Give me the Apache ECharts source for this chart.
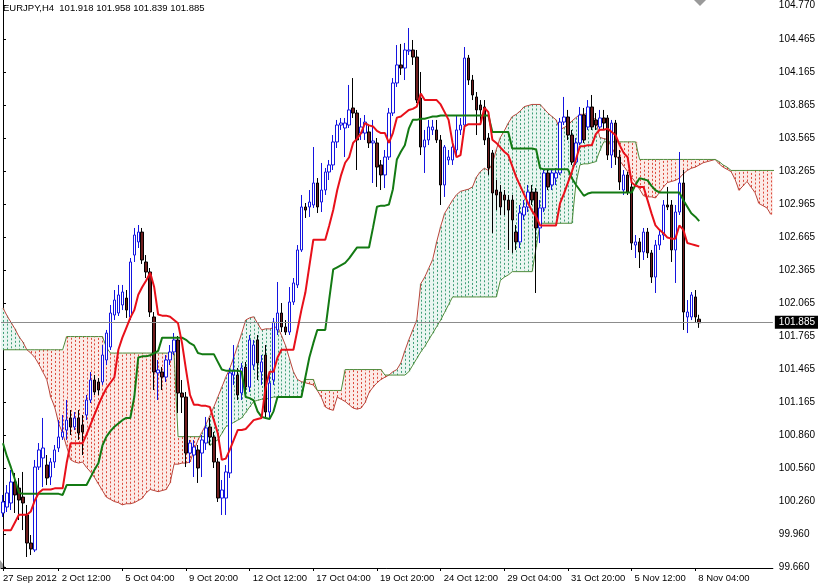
<!DOCTYPE html>
<html><head><meta charset="utf-8">
<script src="https://cdn.jsdelivr.net/npm/echarts@6/dist/echarts.min.js"></script>
<style>html,body{margin:0;padding:0;background:#fff}#c{width:818px;height:585px}</style>
</head><body><div id="c"></div>
<script>
const headerText = 'EURJPY,H4  101.918 101.958 101.839 101.885';
const lastPrice = 101.885;
// OHLC per H4 bar (index 0 = first bar on the left)
const open = [100.156,100.210,100.247,100.438,100.383,100.301,100.138,99.883,99.820,100.574,100.656,100.592,100.483,100.620,100.747,100.847,100.910,101.020,100.938,101.020,100.956,101.047,101.183,101.365,101.347,101.347,101.547,101.665,101.956,101.974,102.047,102.110,101.938,102.501,102.620,102.710,102.438,102.347,101.938,101.429,101.438,101.392,101.547,101.620,101.729,101.247,101.210,100.701,100.683,100.729,100.701,100.792,100.938,100.847,100.620,100.292,100.292,100.520,101.410,101.410,101.247,101.483,101.301,101.501,101.729,101.438,101.592,101.074,101.365,101.820,101.974,101.847,101.801,102.074,102.229,102.547,102.938,102.938,102.956,103.156,102.983,103.092,103.256,103.320,103.529,103.683,103.656,103.683,103.838,103.792,103.610,103.610,103.620,103.520,103.520,103.320,103.229,103.392,103.792,104.065,104.229,104.201,104.356,104.365,104.301,103.929,103.483,103.547,103.638,103.638,103.547,103.138,103.365,103.365,103.456,103.638,103.683,104.292,104.092,103.938,103.865,103.847,103.565,103.429,103.092,103.074,103.047,103.001,103.001,102.710,102.620,102.865,102.938,103.074,103.074,102.747,102.929,103.247,103.138,103.201,103.247,103.710,103.756,103.592,103.347,103.520,103.774,103.665,103.847,103.729,103.665,103.747,103.747,103.410,103.701,103.392,103.092,103.229,103.120,102.592,102.620,102.529,102.710,102.520,102.301,102.592,102.683,102.956,102.956,102.547,102.892,103.156,101.938,101.938,102.120,101.918];
const high = [100.320,100.410,100.547,100.520,100.474,100.529,100.229,99.956,100.638,100.792,101.020,100.683,100.656,100.774,101.001,101.047,101.183,101.092,101.074,101.092,101.047,101.229,101.438,101.410,101.383,101.683,101.820,102.047,102.183,102.229,102.229,102.183,102.474,102.747,102.774,102.747,102.501,102.383,101.983,101.547,101.483,101.592,101.683,101.792,101.765,101.365,101.256,100.820,100.820,100.774,100.865,101.029,101.020,100.892,100.656,100.456,100.592,101.474,101.683,101.474,101.520,101.529,101.774,101.729,101.774,101.592,101.683,101.410,101.929,102.256,102.065,101.910,102.210,102.292,102.592,103.047,102.974,103.092,103.483,103.201,103.338,103.292,103.365,103.592,103.729,103.747,103.747,104.047,104.110,103.820,103.747,103.774,103.683,103.729,103.565,103.365,103.456,103.838,104.110,104.410,104.420,104.429,104.565,104.456,104.365,104.165,103.638,103.729,103.729,103.729,103.592,103.501,103.456,103.547,103.774,103.747,104.392,104.320,104.138,103.983,103.910,103.910,103.610,103.456,103.183,103.138,103.092,103.047,103.047,102.774,102.956,103.001,103.138,103.138,103.110,103.001,103.274,103.274,103.274,103.292,103.747,103.938,103.820,103.638,103.565,103.847,103.838,103.910,103.956,103.792,103.820,103.820,103.774,103.729,103.729,103.456,103.274,103.256,103.156,102.683,102.656,102.747,102.747,102.547,102.638,102.729,103.001,103.120,103.001,102.956,103.438,103.274,102.092,102.165,102.183,101.958];
const low = [100.120,100.165,100.183,100.156,100.092,100.001,99.756,99.774,99.801,100.547,100.392,100.410,100.410,100.565,100.710,100.820,100.820,100.865,100.910,100.820,100.683,101.001,101.156,101.229,101.229,101.320,101.501,101.638,101.910,101.947,102.001,101.929,101.910,102.438,102.565,102.420,102.292,101.938,101.274,101.183,101.274,101.347,101.501,101.592,101.065,101.065,100.574,100.610,100.483,100.429,100.483,100.729,100.774,100.565,100.256,100.138,100.138,100.474,101.320,101.183,101.183,101.229,101.256,101.456,101.365,101.320,101.020,101.020,101.320,101.774,101.801,101.774,101.774,102.047,102.201,102.529,102.838,102.847,102.929,102.883,102.892,103.047,103.183,103.274,103.474,103.638,103.392,103.656,103.747,103.274,103.547,103.547,103.474,103.156,103.120,103.092,103.110,103.365,103.765,104.029,104.138,104.092,104.320,104.229,103.883,103.410,103.247,103.501,103.592,103.520,102.956,103.029,103.320,103.320,103.410,103.592,103.656,104.047,103.910,103.592,103.683,103.501,103.229,102.701,102.910,102.865,102.865,102.547,102.520,102.547,102.565,102.820,102.892,102.956,102.156,102.610,102.892,103.092,103.092,103.138,103.229,103.683,103.547,103.320,103.320,103.501,103.520,103.638,103.638,103.638,103.638,103.638,103.365,103.292,103.320,103.092,103.047,103.047,102.547,102.474,102.383,102.456,102.474,102.247,102.156,102.547,102.638,102.910,102.438,102.247,102.865,101.820,101.792,101.910,101.892,101.839];
const close = [100.256,100.338,100.438,100.320,100.274,100.247,99.883,99.829,100.574,100.729,100.747,100.474,100.620,100.729,100.847,100.892,101.001,100.938,101.020,100.883,100.892,101.183,101.365,101.256,101.274,101.592,101.792,101.974,102.092,102.138,102.165,102.001,102.438,102.683,102.710,102.456,102.347,101.983,101.438,101.456,101.392,101.547,101.620,101.729,101.247,101.210,100.701,100.792,100.756,100.565,100.820,100.929,100.847,100.620,100.292,100.365,100.529,101.429,101.456,101.229,101.474,101.301,101.729,101.683,101.520,101.529,101.074,101.338,101.892,101.974,101.847,101.801,102.074,102.247,102.547,102.938,102.910,102.983,103.156,102.938,103.092,103.256,103.320,103.529,103.683,103.701,103.701,103.820,103.792,103.547,103.665,103.710,103.520,103.538,103.301,103.229,103.392,103.792,104.065,104.229,104.201,104.365,104.365,104.301,103.910,103.483,103.547,103.665,103.665,103.547,103.138,103.483,103.392,103.483,103.638,103.683,104.292,104.092,103.956,103.820,103.820,103.547,103.292,103.065,103.047,102.938,103.001,102.910,102.820,102.620,102.883,102.938,103.074,103.001,102.747,102.929,103.247,103.120,103.247,103.247,103.710,103.756,103.592,103.347,103.520,103.774,103.547,103.847,103.665,103.683,103.747,103.701,103.410,103.701,103.392,103.165,103.229,103.074,102.610,102.620,102.529,102.710,102.520,102.301,102.592,102.683,102.956,102.938,102.547,102.892,103.156,101.983,101.983,102.138,101.938,101.885];
// Ichimoku lines read per bar
const tenkan = [100.00,100.00,100.00,100.07,100.14,100.14,100.14,100.17,100.27,100.34,100.37,100.37,100.37,100.38,100.38,100.38,100.61,100.79,100.79,100.79,100.79,100.87,100.96,101.05,101.14,101.22,101.29,101.34,101.39,101.64,101.75,101.84,101.93,102.00,102.14,102.21,102.27,102.34,102.21,101.96,101.95,101.95,101.94,101.91,101.88,101.70,101.46,101.23,101.14,101.14,101.13,101.13,101.12,101.00,100.88,100.64,100.65,100.73,100.82,100.91,100.91,100.92,100.96,101.00,101.01,101.02,101.30,101.44,101.44,101.57,101.64,101.64,101.64,101.64,101.82,102.00,102.16,102.40,102.64,102.64,102.64,102.64,102.77,102.91,103.09,103.23,103.34,103.39,103.52,103.56,103.61,103.70,103.68,103.67,103.63,103.61,103.61,103.52,103.61,103.75,103.76,103.79,103.82,103.83,103.85,103.97,103.91,103.91,103.91,103.91,103.87,103.80,103.73,103.52,103.39,103.41,103.67,103.69,103.69,103.69,103.69,103.84,103.80,103.55,103.52,103.48,103.44,103.41,103.31,103.21,103.13,103.05,102.97,102.90,102.85,102.77,102.77,102.77,102.77,102.77,102.97,103.06,103.16,103.26,103.37,103.49,103.49,103.50,103.50,103.60,103.64,103.64,103.65,103.62,103.59,103.50,103.43,103.39,103.16,103.13,103.12,103.12,103.00,102.88,102.77,102.73,102.70,102.66,102.65,102.65,102.77,102.73,102.61,102.60,102.59,102.58];
const kijun = [100.79,100.67,100.57,100.46,100.34,100.33,100.33,100.33,100.33,100.33,100.33,100.33,100.33,100.33,100.33,100.32,100.41,100.41,100.41,100.41,100.41,100.41,100.48,100.55,100.61,100.77,100.85,100.90,100.94,100.97,101.00,101.02,101.02,101.21,101.57,101.58,101.58,101.59,101.61,101.63,101.75,101.75,101.75,101.75,101.75,101.75,101.73,101.70,101.68,101.61,101.60,101.60,101.60,101.60,101.53,101.46,101.45,101.45,101.45,101.45,101.44,101.21,101.20,101.18,101.08,101.03,101.02,101.01,101.08,101.21,101.21,101.21,101.21,101.21,101.21,101.21,101.39,101.57,101.70,101.82,101.82,101.82,102.10,102.37,102.39,102.41,102.43,102.47,102.52,102.57,102.57,102.57,102.57,102.75,102.94,102.95,102.95,102.96,103.10,103.37,103.44,103.50,103.65,103.73,103.73,103.74,103.74,103.75,103.76,103.76,103.77,103.77,103.77,103.77,103.77,103.77,103.77,103.77,103.77,103.77,103.77,103.77,103.77,103.62,103.62,103.62,103.62,103.62,103.47,103.47,103.47,103.47,103.47,103.47,103.46,103.29,103.28,103.28,103.28,103.28,103.28,103.28,103.28,103.20,103.14,103.09,103.04,103.06,103.07,103.07,103.07,103.07,103.07,103.07,103.07,103.07,103.07,103.07,103.07,103.14,103.20,103.19,103.18,103.13,103.09,103.07,103.07,103.07,103.07,103.07,103.07,103.00,102.94,102.88,102.85,102.81];
// Senkou spans (cloud), extending 18 bars past the last candle
const spanA = [102.02,101.95,101.89,101.83,101.76,101.71,101.64,101.61,101.57,101.51,101.44,101.37,101.21,101.12,100.97,100.88,100.76,100.64,100.62,100.61,100.62,100.57,100.53,100.48,100.42,100.36,100.30,100.28,100.26,100.25,100.23,100.24,100.24,100.25,100.27,100.29,100.34,100.37,100.36,100.35,100.36,100.37,100.43,100.60,100.60,100.61,100.61,100.62,100.72,100.82,100.89,100.96,101.04,101.12,101.21,101.30,101.39,101.47,101.57,101.68,101.79,101.91,101.93,101.94,101.88,101.82,101.83,101.83,101.84,101.85,101.77,101.68,101.56,101.44,101.37,101.35,101.34,101.33,101.32,101.27,101.21,101.12,101.10,101.09,101.21,101.19,101.17,101.14,101.11,101.10,101.11,101.16,101.25,101.30,101.34,101.37,101.39,101.41,101.44,101.46,101.52,101.63,101.73,101.82,101.91,102.24,102.30,102.38,102.46,102.62,102.76,102.88,102.94,103.00,103.05,103.08,103.09,103.10,103.12,103.21,103.26,103.29,103.27,103.33,103.46,103.57,103.63,103.70,103.76,103.78,103.81,103.85,103.86,103.87,103.87,103.87,103.83,103.79,103.76,103.73,103.64,103.66,103.68,103.72,103.75,103.78,103.78,103.79,103.76,103.73,103.57,103.56,103.55,103.48,103.41,103.36,103.31,103.26,103.21,103.16,103.10,103.04,103.03,103.03,103.02,103.07,103.12,103.16,103.17,103.18,103.20,103.24,103.27,103.29,103.30,103.32,103.34,103.35,103.36,103.37,103.33,103.30,103.28,103.26,103.19,103.09,103.13,103.17,103.12,103.07,102.97,102.95,102.93,102.87];
const spanB = [101.64,101.64,101.64,101.64,101.64,101.64,101.64,101.64,101.64,101.64,101.64,101.64,101.64,101.64,101.64,101.64,101.76,101.76,101.76,101.76,101.76,101.76,101.76,101.76,101.76,101.76,101.66,101.61,101.61,101.61,101.61,101.61,101.61,101.61,101.61,101.61,101.61,101.61,101.61,101.61,101.61,101.61,101.61,101.61,100.85,100.85,100.85,100.85,100.85,100.85,100.85,100.85,100.77,100.80,100.82,100.88,100.94,100.96,100.98,101.00,101.02,101.07,101.12,101.17,101.18,101.19,101.19,101.20,101.21,101.21,101.21,101.21,101.21,101.21,101.21,101.21,101.37,101.37,101.37,101.27,101.27,101.27,101.27,101.27,101.27,101.27,101.46,101.46,101.46,101.46,101.46,101.46,101.46,101.46,101.46,101.46,101.41,101.41,101.41,101.41,101.41,101.41,101.44,101.50,101.56,101.62,101.67,101.73,101.79,101.85,101.91,101.98,102.05,102.12,102.12,102.12,102.12,102.12,102.12,102.12,102.12,102.12,102.12,102.12,102.12,102.27,102.30,102.32,102.35,102.35,102.35,102.35,102.35,102.35,102.57,102.79,102.79,102.79,102.79,102.79,102.79,102.79,102.79,102.79,103.15,103.32,103.33,103.33,103.34,103.35,103.45,103.53,103.53,103.53,103.53,103.53,103.53,103.53,103.53,103.53,103.37,103.37,103.37,103.37,103.37,103.37,103.37,103.37,103.37,103.37,103.37,103.37,103.37,103.37,103.37,103.37,103.37,103.37,103.37,103.37,103.35,103.32,103.30,103.27,103.27,103.27,103.27,103.27,103.27,103.27,103.27,103.27,103.27,103.27,103.27];
const timeLabelIdx = [0,14,30,46,62,78,94,110,126,142,158,174];
const timeLabelText = ['27 Sep 2012','2 Oct 12:00','5 Oct 04:00','9 Oct 20:00','12 Oct 12:00','17 Oct 04:00','19 Oct 20:00','24 Oct 12:00','29 Oct 04:00','31 Oct 20:00','5 Nov 12:00','8 Nov 04:00'];
const priceTicks = [99.660,99.960,100.260,100.560,100.860,101.165,101.465,101.765,102.065,102.365,102.665,102.965,103.265,103.565,103.865,104.165,104.465,104.770];

const NBARS = spanA.length;
const YMIN = 99.656, YMAX = 104.8195;
const FONT = 'Liberation Sans';
const cats = spanA.map((_, i) => String(i));
const candleData = open.map((o, i) => [o, close[i], low[i], high[i]]);
const chart = echarts.init(document.getElementById('c'), null, {renderer: 'canvas'});
const GREEN_DOT = '#3f9f78', RED_DOT = '#dd4a3c';
const GREEN_TINT = '#eaf6f1', RED_TINT = '#fcebe7';
const labelAt = (v) => { const k = timeLabelIdx.indexOf(Number(v)); return k >= 0 ? timeLabelText[k] : ''; };

chart.setOption({
  animation: false,
  backgroundColor: '#ffffff',
  grid: {left: 0, top: 0, width: 776, height: 568, containLabel: false},
  xAxis: [{
    type: 'category', data: cats, boundaryGap: true,
    axisLine: {show: true, lineStyle: {color: '#000', width: 1}},
    axisTick: {show: true, alignWithLabel: true, length: 3, interval: (i) => timeLabelIdx.includes(i), lineStyle: {color: '#000'}},
    axisLabel: {interval: (i) => i > 0 && timeLabelIdx.includes(i), hideOverlap: false, align: 'left', margin: 5,
      padding: [0, 0, 0, 3], fontSize: 9.5, fontFamily: FONT, color: '#000', formatter: labelAt},
    splitLine: {show: false}
  }, {
    type: 'value', min: -0.5, max: NBARS - 0.5, show: false
  }, {
    type: 'category', data: cats, boundaryGap: true, position: 'bottom',
    axisLine: {show: false}, axisTick: {show: false}, splitLine: {show: false},
    axisLabel: {interval: (i) => i === 0, showMinLabel: true, hideOverlap: false, align: 'left', margin: 5,
      fontSize: 9.5, fontFamily: FONT, color: '#000', formatter: labelAt}
  }],
  yAxis: {
    type: 'value', position: 'right', min: YMIN, max: YMAX, offset: 2,
    axisLine: {show: true, lineStyle: {color: '#000', width: 1}},
    axisTick: {show: true, length: 3, customValues: priceTicks, lineStyle: {color: '#000'}},
    axisLabel: {customValues: priceTicks, formatter: (v) => v.toFixed(3), margin: 4, fontSize: 10, fontFamily: FONT, color: '#000'},
    splitLine: {show: false}
  },
  series: [
    {
      type: 'custom', name: 'cloud', xAxisIndex: 1, yAxisIndex: 0, silent: true, z: 1,
      data: spanA.map((a, i) => [i, a, spanB[i]]),
      encode: {x: 0, y: [1, 2]},
      renderItem: (params, api) => {
        const i = api.value(0), a = api.value(1), b = api.value(2);
        const pa = api.coord([i, a]), pb = api.coord([i, b]);
        const x = Math.round(pa[0]) + 0.5;
        const up = a >= b;
        const top = Math.min(pa[1], pb[1]), h = Math.abs(pa[1] - pb[1]);
        return {type: 'group', children: [
          {type: 'rect', shape: {x: x - 2.5, y: top, width: 4, height: h}, style: {fill: up ? GREEN_TINT : RED_TINT}},
          {type: 'line', shape: {x1: x, y1: pa[1], x2: x, y2: pb[1]},
            style: {stroke: up ? GREEN_DOT : RED_DOT, lineWidth: 1, lineDash: [2, 2]}}
        ]};
      }
    },
    {type: 'line', name: 'spanA', xAxisIndex: 1, data: spanA.map((v, i) => [i, v]), showSymbol: false, silent: true, z: 2,
      lineStyle: {color: '#b8443a', width: 1}},
    {type: 'line', name: 'spanB', xAxisIndex: 1, data: spanB.map((v, i) => [i, v]), showSymbol: false, silent: true, z: 2,
      lineStyle: {color: '#4e8a3a', width: 1}},
    {
      type: 'candlestick', name: 'EURJPY', xAxisIndex: 0, data: candleData, barWidth: 3, z: 3, silent: true,
      itemStyle: {color: '#ffffff', color0: '#6e1d1d', borderColor: '#1414e0', borderColor0: '#000000', borderWidth: 1},
      markLine: {
        symbol: 'none', silent: true, animation: false,
        data: [{yAxis: lastPrice}],
        lineStyle: {color: '#8c8c8c', width: 1, type: 'solid'},
        label: {show: true, position: 'end', distance: 2, formatter: lastPrice.toFixed(3), backgroundColor: '#000', color: '#fff',
          padding: [2, 4, 1, 4], fontSize: 10, fontFamily: FONT}
      }
    },
    {type: 'line', name: 'kijun', xAxisIndex: 1, data: kijun.map((v, i) => [i, v]), showSymbol: false, silent: true, z: 4,
      lineStyle: {color: '#137a13', width: 2}},
    {type: 'line', name: 'tenkan', xAxisIndex: 1, data: tenkan.map((v, i) => [i, v]), showSymbol: false, silent: true, z: 5,
      lineStyle: {color: '#e8101a', width: 2}}
  ],
  graphic: [
    {type: 'text', left: 3, top: 3, style: {text: headerText, fontSize: 9.5, fontFamily: FONT, fill: '#000'}},
    {type: 'polygon', shape: {points: [[694, 0], [706, 0], [700, 6]]}, style: {fill: '#9a9a9a'}},
    {type: 'polygon', shape: {points: [[0, 560], [0, 568], [6, 568]]}, style: {fill: '#9a9a9a'}}
  ]
});
</script></body></html>
